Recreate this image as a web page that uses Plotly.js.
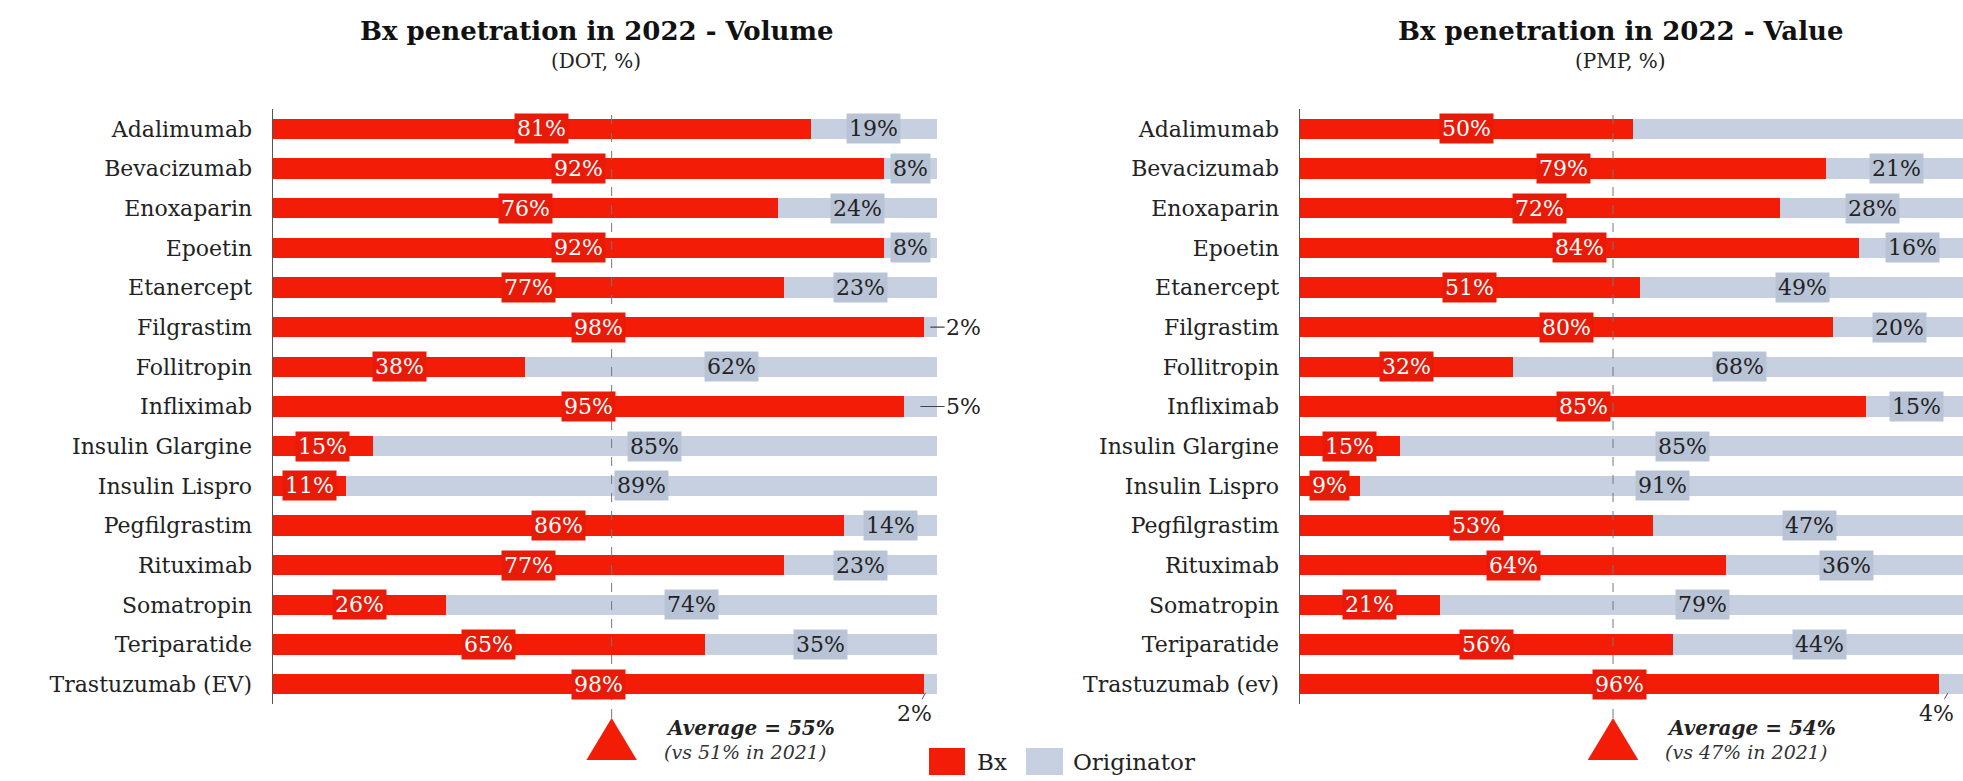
<!DOCTYPE html>
<html><head><meta charset="utf-8">
<script src="https://cdn.plot.ly/plotly-3.0.1.min.js"></script>
<style>html,body{margin:0;padding:0;background:#fff;overflow:hidden;} #chart{width:1963px;height:781px;}</style>
</head><body><div id="chart"></div>
<script>
// ---------- data ----------
const drugsVolume = ['Adalimumab','Bevacizumab','Enoxaparin','Epoetin','Etanercept','Filgrastim','Follitropin','Infliximab','Insulin Glargine','Insulin Lispro','Pegfilgrastim','Rituximab','Somatropin','Teriparatide','Trastuzumab (EV)'];
const drugsValue  = ['Adalimumab','Bevacizumab','Enoxaparin','Epoetin','Etanercept','Filgrastim','Follitropin','Infliximab','Insulin Glargine','Insulin Lispro','Pegfilgrastim','Rituximab','Somatropin','Teriparatide','Trastuzumab (ev)'];
const bxVolume   = [81, 92, 76, 92, 77, 98, 38, 95, 15, 11, 86, 77, 26, 65, 98];
const origVolume = [19,  8, 24,  8, 23,  2, 62,  5, 85, 89, 14, 23, 74, 35,  2];
const bxValue    = [50, 79, 72, 84, 51, 80, 32, 85, 15,  9, 53, 64, 21, 56, 96];
const origValue  = [50, 21, 28, 16, 49, 20, 68, 15, 85, 91, 47, 36, 79, 44,  4];
const avgNow  = [55, 54];
const avg2021 = [51, 47];
const titles    = ['Bx penetration in 2022 - Volume', 'Bx penetration in 2022 - Value'];
const subtitles = ['(DOT, %)', '(PMP, %)'];
const seriesNames = ['Bx', 'Originator'];
const hiddenOrigLabels = [[], ['Adalimumab']];

// ---------- style ----------
const W = 1963, H = 781;
const RED = '#f31c06', RED_LBL = '#e81a08', GREY = '#c7d0e1', GREY_LBL = '#b9c3d6';
const FONT = 'DejaVu Serif';
const xp = px => px / W, yp = py => 1 - py / H;

const charts = [
  {cats: drugsVolume, bx: bxVolume, org: origVolume, xa: 'x',  ya: 'y',  cx: 596,  range: [0, 100]},
  {cats: drugsValue,  bx: bxValue,  org: origValue,  xa: 'x2', ya: 'y2', cx: 1620, range: [0, 99.55]}
];

const traces = [], annotations = [], shapes = [];
charts.forEach((c, k) => {
  traces.push({type:'bar', orientation:'h', name: seriesNames[0], x: c.bx, y: c.cats, xaxis: c.xa, yaxis: c.ya,
    marker:{color: RED}, width: 0.52, hoverinfo:'skip', showlegend:false});
  traces.push({type:'bar', orientation:'h', name: seriesNames[1], x: c.org, y: c.cats, xaxis: c.xa, yaxis: c.ya,
    marker:{color: GREY}, width: 0.52, hoverinfo:'skip', showlegend:false});

  const n = c.cats.length;
  c.cats.forEach((cat, i) => {
    annotations.push({xref: c.xa, yref: c.ya, x: c.bx[i] / 2, y: cat, text: c.bx[i] + '%', showarrow:false,
      xanchor:'center', yanchor:'middle',
      font:{family: FONT, size: 22, color:'#ffffff'}, bgcolor: RED_LBL, borderpad: 2});
    const o = c.org[i];
    if (hiddenOrigLabels[k].includes(cat)) return;
    if (o >= 8) {
      annotations.push({xref: c.xa, yref: c.ya, x: c.bx[i] + o / 2, y: cat, text: o + '%', showarrow:false,
        xanchor:'center', yanchor:'middle',
        font:{family: FONT, size: 22, color:'#222'}, bgcolor: GREY_LBL, borderpad: 2});
    } else if (i === n - 1) {
      annotations.push({xref: c.xa, yref: c.ya, x: c.bx[i] + o / 2, y: cat, text: o + '%', showarrow:true,
        arrowhead:0, arrowwidth:1, arrowcolor:'#555', ax: -16, ay: 29, standoff: 10,
        font:{family: FONT, size: 22, color:'#222'}});
    } else {
      annotations.push({xref: c.xa, yref: c.ya, x: c.bx[i] + o / 2, y: cat, text: o + '%', showarrow:true,
        arrowhead:0, arrowwidth:1.2, arrowcolor:'#444', axref: c.xa, ax: 104, ay: 0,
        font:{family: FONT, size: 22, color:'#222'}});
    }
  });

  // titles
  annotations.push({xref:'paper', yref:'paper', x: xp(c.cx), y: yp(31), xanchor:'center', yanchor:'middle',
    text: '<b>' + titles[k] + '</b>', showarrow:false, font:{family: FONT, size: 26, color:'#111'}});
  annotations.push({xref:'paper', yref:'paper', x: xp(c.cx), y: yp(61), xanchor:'center', yanchor:'middle',
    text: subtitles[k], showarrow:false, font:{family: FONT, size: 20, color:'#222'}});

  // average marker
  const a = avg2021[k];
  shapes.push({type:'line', xref: c.xa, yref:'paper', x0: a, x1: a, y0: yp(718), y1: yp(107),
    line:{color:'#777', width:1, dash:'dash'}, layer:'above'});
  const hw = 3.8;
  shapes.push({type:'path', xref: c.xa, yref:'paper',
    path: `M ${a - hw},${yp(760)} L ${a + hw},${yp(760)} L ${a},${yp(718)} Z`,
    fillcolor: RED, line:{width:0}});
  annotations.push({xref: c.xa, yref:'paper', x: a, xshift: 52, xanchor:'left', yanchor:'middle', y: yp(728),
    text: '<b><i>Average = ' + avgNow[k] + '%</i></b>', showarrow:false,
    font:{family: FONT, size: 20, color:'#222'}});
  annotations.push({xref: c.xa, yref:'paper', x: a, xshift: 50, xanchor:'left', yanchor:'middle', y: yp(752),
    text: '<i>(vs ' + a + '% in 2021)</i>', showarrow:false,
    font:{family: FONT, size: 19, color:'#333'}});
});

// legend (drawn manually)
shapes.push({type:'rect', xref:'paper', yref:'paper', x0: xp(929), x1: xp(965), y0: yp(775), y1: yp(748), fillcolor: RED, line:{width:0}});
shapes.push({type:'rect', xref:'paper', yref:'paper', x0: xp(1026), x1: xp(1063), y0: yp(775), y1: yp(748), fillcolor: GREY, line:{width:0}});
annotations.push({xref:'paper', yref:'paper', x: xp(975), xanchor:'left', yanchor:'middle', y: yp(762), text: seriesNames[0], showarrow:false,
  font:{family: FONT, size: 23, color:'#222'}});
annotations.push({xref:'paper', yref:'paper', x: xp(1071), xanchor:'left', yanchor:'middle', y: yp(762), text: seriesNames[1], showarrow:false,
  font:{family: FONT, size: 23, color:'#222'}});

const yBase = {type:'category', showgrid:false, zeroline:false, showline:true, linecolor:'#555', linewidth:1.5,
  ticks:'outside', ticklen:15, tickcolor:'rgba(0,0,0,0)', range:[14.5, -0.5], autorange:false,
  tickfont:{family: FONT, size: 22, color:'#222'}, domain:[yp(704), yp(109)], fixedrange:true};
const xBase = {showgrid:false, zeroline:false, showticklabels:false, showline:false, fixedrange:true};

const layout = {
  width: W, height: H, margin:{l:0, r:0, t:0, b:0}, paper_bgcolor:'#fff', plot_bgcolor:'rgba(0,0,0,0)',
  barmode:'stack', bargap:0.48, showlegend:false,
  xaxis: Object.assign({}, xBase, {domain:[xp(273), xp(937)], range: charts[0].range, anchor:'y'}),
  xaxis2: Object.assign({}, xBase, {domain:[xp(1300), 1], range: charts[1].range, anchor:'y2'}),
  yaxis: Object.assign({}, yBase, {anchor:'x', categoryarray: drugsVolume}),
  yaxis2: Object.assign({}, yBase, {anchor:'x2', categoryarray: drugsValue}),
  annotations, shapes
};

Plotly.newPlot('chart', traces, layout, {staticPlot:true, displayModeBar:false});
</script></body></html>
